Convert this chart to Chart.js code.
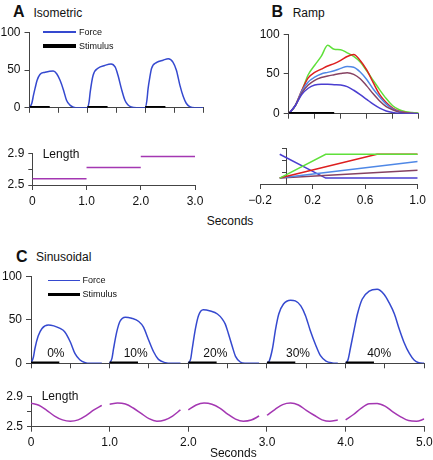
<!DOCTYPE html>
<html>
<head>
<meta charset="utf-8">
<script src="https://cdn.jsdelivr.net/npm/chart.js@4.4.1/dist/chart.umd.min.js"></script>
<style>
  body { margin: 0; background: #fff; }
  #fig { position: relative; width: 433px; height: 460px; overflow: hidden; background: #fff;
         font-family: "Liberation Sans", Arial, sans-serif; color: #111; }
  #fig canvas { position: absolute; }
  .t { position: absolute; white-space: nowrap; z-index: 2; }
  .mark { position: absolute; z-index: 2; }
</style>
</head>
<body>
<div id="fig">
  <canvas id="aForce"></canvas>
  <canvas id="aLen"></canvas>
  <canvas id="bForce"></canvas>
  <canvas id="bLen"></canvas>
  <canvas id="cForce"></canvas>
  <canvas id="cLen"></canvas>
</div>
<script>
// ---- A: isometric ----
const isoTime  = [0, 0.04, 0.07, 0.10, 0.13, 0.18, 0.27, 0.35, 0.41, 0.47, 0.53, 0.59, 0.64, 0.70, 0.76, 0.85,
                  1.00, 1.03, 1.05, 1.10, 1.19, 1.30, 1.41, 1.48, 1.53, 1.59, 1.65, 1.70, 1.76, 1.85,
                  2.00, 2.03, 2.05, 2.08, 2.11, 2.20, 2.31, 2.40, 2.48, 2.54, 2.60, 2.66, 2.71, 2.77, 2.86, 3.00];
const isoForce = [0, 6, 17, 27, 36, 44, 47, 48.5, 48.7, 45, 36, 23, 10, 3.5, 0.8, 0,
                  0, 8, 21, 43, 52.6, 56, 58, 54, 43, 25, 10, 4, 1, 0,
                  0, 10, 25, 40, 52, 60, 63, 65, 60.5, 49.6, 30, 14.5, 6, 1.5, 0, 0];
const isoStimOn  = [0, 1, 2];
const isoStimOff = [0.35, 1.35, 2.35];
const isoLenTime = [0, 1, 1, 1, 2, 2, 2, 3];
const isoLen     = [2.58, 2.58, null, 2.72, 2.72, null, 2.86, 2.86];

// ---- B: ramp ----
const rampTime   = [0, 0.05, 0.10, 0.15, 0.20, 0.25, 0.30, 0.35, 0.40, 0.45, 0.50,
                    0.55, 0.60, 0.65, 0.70, 0.75, 0.80, 0.85, 0.90, 0.95, 1.00];
const rampGreen  = [0, 10, 28, 49, 61, 72, 86, 81, 80.5, 76.5, 72, 65, 54, 42, 30, 19, 10, 5, 2.5, 1.5, 1];
const rampRed    = [0, 10, 29, 45, 52, 56, 60, 63, 67, 72, 74.5, 67, 55, 39, 24, 14, 7, 3, 1.5, 0.5, 0];
const rampBlue   = [0, 10, 28, 40, 46, 50, 52, 54, 57, 59.5, 58.5, 52.5, 43, 31, 21, 12, 6, 2.5, 1, 0.5, 0];
const rampBrown  = [0, 10, 26, 36, 42, 45.5, 47.5, 49, 50.5, 51.5, 49.5, 44, 35, 25, 16, 9, 5, 2, 1, 0.3, 0];
const rampIndigo = [0, 10, 24, 32, 36, 37, 37, 36.5, 36, 34, 29.5, 24, 18, 12, 7, 3.5, 1.5, 0.5, 0, 0, 0];
const rampStimOn  = [0];
const rampStimOff = [0.35];
const rampLenGreenT  = [-0.05, 0.30, 1.0];
const rampLenGreen   = [2.5, 2.9, 2.9];
const rampLenRedT    = [-0.05, 0.69, 1.0];
const rampLenRed     = [2.5, 2.9, 2.9];
const rampLenBlueT   = [-0.05, 1.0];
const rampLenBlue    = [2.5, 2.78];
const rampLenBrownT  = [-0.05, 1.0];
const rampLenBrown   = [2.5, 2.63];
const rampLenIndigoT = [-0.05, 0.30, 1.0];
const rampLenIndigo  = [2.9, 2.5, 2.5];
const rampXTicks = [-0.2, 0.2, 0.6, 1.0];

// ---- C: sinusoidal ----
const sinTime  = [0, 0.03, 0.05, 0.09, 0.14, 0.22, 0.29, 0.37, 0.43, 0.50, 0.56, 0.62, 0.69, 0.75, 0.90, 0.95,
                  1.00, 1.03, 1.05, 1.09, 1.13, 1.20, 1.28, 1.37, 1.43, 1.49, 1.56, 1.62, 1.71, 1.78, 1.90, 1.95,
                  2.00, 2.03, 2.05, 2.09, 2.13, 2.19, 2.28, 2.37, 2.43, 2.47, 2.51, 2.56, 2.60, 2.66, 2.72, 2.90, 2.95,
                  3.00, 3.03, 3.07, 3.11, 3.15, 3.21, 3.30, 3.36, 3.43, 3.49, 3.55, 3.62, 3.68, 3.75, 3.83, 3.90, 3.95,
                  4.00, 4.03, 4.06, 4.11, 4.15, 4.21, 4.30, 4.40, 4.49, 4.55, 4.62, 4.68, 4.74, 4.81, 4.87, 4.93, 5.00];
const sinForce = [0, 7, 17, 31, 40, 44, 43, 40, 36, 24.5, 11, 4, 0.7, 0, 0, null,
                  0, 6, 17, 36, 48, 53, 51.7, 48, 41.5, 28, 13, 4.5, 0.7, 0, 0, null,
                  0, 5, 17, 39.6, 55, 61.5, 60, 56.6, 51, 45, 34, 19, 8, 1.5, 0, 0, null,
                  0, 3, 17, 39.6, 56.6, 68, 72.5, 71.7, 66, 54.7, 37.7, 20.8, 8.7, 2.6, 0.4, 0, null,
                  0, 4, 17, 39.6, 56.6, 73.6, 83, 85, 79, 70, 56.6, 39.6, 24.5, 11.3, 3.8, 0.7, 0];
const sinStimOn  = [0, 1, 2, 3, 4];
const sinStimOff = [0.36, 1.36, 2.36, 3.36, 4.36];
const sinLenTime = [0, 0.1, 0.2, 0.3, 0.4, 0.5, 0.6, 0.7, 0.8, 0.9, 0.95,
                    1.0, 1.1, 1.2, 1.3, 1.4, 1.5, 1.6, 1.7, 1.8, 1.9, 1.95,
                    2.0, 2.1, 2.2, 2.3, 2.4, 2.5, 2.6, 2.7, 2.8, 2.9, 2.95,
                    3.0, 3.1, 3.2, 3.3, 3.4, 3.5, 3.6, 3.7, 3.8, 3.9, 3.95,
                    4.0, 4.1, 4.2, 4.3, 4.4, 4.5, 4.6, 4.7, 4.8, 4.9, 5.0];
const sinLen     = [2.807, 2.782, 2.715, 2.64, 2.59, 2.572, 2.59, 2.645, 2.72, 2.78, null,
                    2.795, 2.81, 2.797, 2.745, 2.675, 2.605, 2.572, 2.588, 2.64, 2.72, null,
                    2.72, 2.785, 2.81, 2.795, 2.745, 2.665, 2.60, 2.572, 2.587, 2.64, null,
                    2.65, 2.725, 2.79, 2.81, 2.785, 2.715, 2.65, 2.59, 2.57, 2.588, null,
                    2.59, 2.66, 2.745, 2.80, 2.805, 2.77, 2.695, 2.63, 2.58, 2.572, 2.60];
const sinPercent = ['0%', '10%', '20%', '30%', '40%'];

// colours
const BLUE = '#3549cf';
const PURPLE = '#a437b2';
const AXIS = '#444';

Chart.defaults.font.family = '"Liberation Sans", Arial, sans-serif';
Chart.defaults.font.size = 12;
Chart.defaults.color = '#111';
Chart.defaults.animation = false;

const YW = 40, XH = 24, PT = 10, PR = 14;

function xy(xs, ys) { return xs.map((x, i) => ({ x: x, y: ys[i] })); }

function stim(on, off) {
    const out = [];
    on.forEach((t, i) => { out.push({ x: t, y: 0 }, { x: off[i], y: 0 }, { x: off[i], y: null }); });
    return out;
}

function line(data, color, width, smooth) {
    return { data: data, borderColor: color, borderWidth: width, pointRadius: 0, fill: false,
             tension: 0, cubicInterpolationMode: smooth ? 'monotone' : 'default', borderCapStyle: 'butt' };
}

function axis(min, max, step, o) {
    o = o || {};
    return {
        type: 'linear', min: min, max: max,
        ticks: { stepSize: step, display: !!o.labels, padding: o.pad || 4, autoSkip: false, maxRotation: 0,
                 color: '#111', font: { size: 12 }, callback: o.fmt },
        grid: { drawOnChartArea: false, drawTicks: true, tickLength: o.tick || 5, color: AXIS, lineWidth: 1 },
        border: { display: true, color: AXIS, width: 1 },
        afterBuildTicks: o.ticks ? (s => { s.ticks = o.ticks.map(v => ({ value: v })); }) : undefined
    };
}

function makeChart(id, area, datasets, sx, sy, yInside) {
    const c = document.getElementById(id);
    const left = Math.floor(area.left) - YW;
    const top = Math.floor(area.top) - PT;
    const w = Math.ceil(area.right) + PR - left;
    const h = Math.ceil(area.bottom) + XH - top;
    const yw = area.left - left;
    const padTop = area.top - top;
    const padRight = left + w - area.right;
    const xh = top + h - area.bottom;
    c.width = w; c.height = h;
    c.style.left = left + 'px'; c.style.top = top + 'px';
    c.style.width = w + 'px'; c.style.height = h + 'px';
    sx.position = 'bottom';
    sx.afterFit = s => { s.height = xh; };
    if (yInside) {
        sy.position = { x: 0 };
    } else {
        sy.position = 'left';
        sy.afterFit = s => { s.width = yw; };
    }
    return new Chart(c, {
        type: 'line',
        data: { datasets: datasets },
        options: {
            responsive: false,
            animation: false,
            layout: { padding: { top: padTop, right: padRight, bottom: 0, left: yInside ? yw : 0 } },
            scales: { x: sx, y: sy },
            plugins: { legend: { display: false }, tooltip: { enabled: false } }
        }
    });
}

const secFmt = v => (v === 0 ? '0' : v.toFixed(1));
const lenFmt = v => (Math.abs(v - 2.7) < 1e-6 ? '' : v.toFixed(1));
const signFmt = v => (v < 0 ? '\u2212' + Math.abs(v).toFixed(1) : v.toFixed(1));

// A force
makeChart('aForce', { left: 29.5, right: 203, top: 31.7, bottom: 107.8 }, [
    line(stim(isoStimOn, isoStimOff), '#000', 3.5, false),
    line(xy(isoTime, isoForce), BLUE, 1.5, true)
], axis(0, 3, 0.5), axis(0, 100, 50, { labels: true }));

// A length
makeChart('aLen', { left: 32.3, right: 195, top: 152.7, bottom: 185 }, [
    line(xy(isoLenTime, isoLen), PURPLE, 1.5, false)
], axis(0, 3, 1, { labels: true, fmt: secFmt }), axis(2.5, 2.9, 0.2, { labels: true, fmt: lenFmt, tick: 4 }));

// B force
makeChart('bForce', { left: 288.7, right: 418.7, top: 33.7, bottom: 113.7 }, [
    line(stim(rampStimOn, rampStimOff), '#000', 3.5, false),
    line(xy(rampTime, rampIndigo), '#4a3ed0', 1.5, true),
    line(xy(rampTime, rampBrown), '#864262', 1.5, true),
    line(xy(rampTime, rampBlue), '#4f88e6', 1.5, true),
    line(xy(rampTime, rampRed), '#dd1f1f', 1.5, true),
    line(xy(rampTime, rampGreen), '#5fe03a', 1.5, true)
], axis(0, 1, 0.2), axis(0, 100, 50, { labels: true }));

// B length
makeChart('bLen', { left: 260, right: 417.7, top: 148.3, bottom: 184 }, [
    line(xy(rampLenGreenT, rampLenGreen), '#5fe03a', 1.5, false),
    line(xy(rampLenRedT, rampLenRed), '#dd1f1f', 1.5, false),
    line(xy(rampLenBlueT, rampLenBlue), '#4f88e6', 1.5, false),
    line(xy(rampLenBrownT, rampLenBrown), '#864262', 1.5, false),
    line(xy(rampLenIndigoT, rampLenIndigo), '#4a3ed0', 1.5, false)
], axis(-0.2, 1.0, 0.4, { labels: true, fmt: signFmt, ticks: rampXTicks }), axis(2.4, 3.0, 0.2, { tick: 4 }), true);

// C force
makeChart('cForce', { left: 31, right: 424.3, top: 275.3, bottom: 363.3 }, [
    line(stim(sinStimOn, sinStimOff), '#000', 3.5, false),
    line(xy(sinTime, sinForce), BLUE, 1.5, true)
], axis(0, 5, 0.5), axis(0, 100, 50, { labels: true }));

// C length
makeChart('cLen', { left: 31, right: 424.3, top: 395, bottom: 426.7 }, [
    line(xy(sinLenTime, sinLen), PURPLE, 1.5, true)
], axis(0, 5, 1, { labels: true, fmt: secFmt }), axis(2.5, 2.9, 0.2, { labels: true, fmt: lenFmt, tick: 4 }));

// text and legend samples
const fig = document.getElementById('fig');
function text(str, x, cy, size, bold, center) {
    const d = document.createElement('div');
    d.className = 't';
    d.textContent = str;
    d.style.fontSize = size + 'px';
    d.style.lineHeight = size + 'px';
    d.style.top = (cy - size / 2) + 'px';
    d.style.left = x + 'px';
    if (bold) d.style.fontWeight = 'bold';
    if (center) d.style.transform = 'translateX(-50%)';
    fig.appendChild(d);
}
function mark(x1, x2, y, thick, color) {
    const d = document.createElement('div');
    d.className = 'mark';
    d.style.left = x1 + 'px';
    d.style.width = (x2 - x1) + 'px';
    d.style.top = (y - thick / 2) + 'px';
    d.style.height = thick + 'px';
    d.style.background = color;
    fig.appendChild(d);
}

text('A', 13, 11.7, 16, true);
text('Isometric', 33.5, 13, 12);
text('B', 271.5, 12, 16, true);
text('Ramp', 292.7, 13, 12);
text('C', 16, 256.7, 16, true);
text('Sinusoidal', 36, 257, 12);
text('Seconds', 230, 220.8, 12, false, true);
text('Seconds', 233.3, 452.8, 12, false, true);
text('Length', 42.7, 154.2, 12);
text('Length', 41.7, 395.5, 12);

// legend A
mark(43.3, 76, 32, 1.5, BLUE);
mark(43.3, 76, 45.8, 3.5, '#000');
text('Force', 79, 32.3, 9);
text('Stimulus', 79, 46.3, 9);
// legend C
mark(48, 80, 280.5, 1.5, BLUE);
mark(48, 80, 294.3, 3.5, '#000');
text('Force', 82.5, 280.8, 9);
text('Stimulus', 82.5, 294.6, 9);

const pctX = [55.8, 135.7, 215.3, 298, 379.2];
sinPercent.forEach((p, i) => text(p, pctX[i], 352.5, 12, false, true));
</script>
</body>
</html>
